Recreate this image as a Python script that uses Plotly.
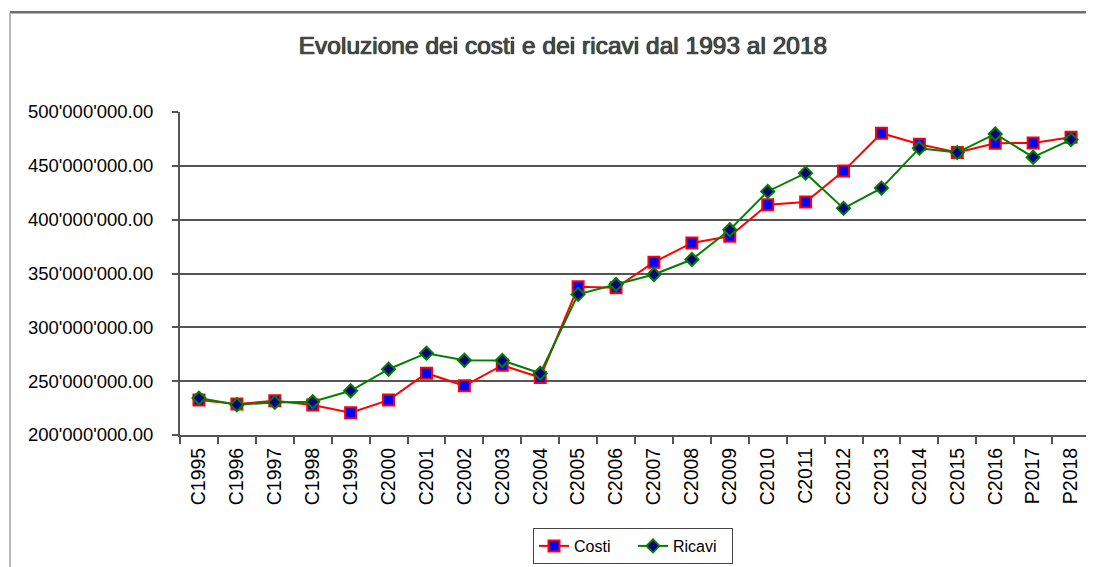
import plotly.graph_objects as go

# ---- data (values in millions) ----
categories = ["C1995", "C1996", "C1997", "C1998", "C1999", "C2000", "C2001", "C2002",
              "C2003", "C2004", "C2005", "C2006", "C2007", "C2008", "C2009", "C2010",
              "C2011", "C2012", "C2013", "C2014", "C2015", "C2016", "P2017", "P2018"]
costi_mio = [232.4, 228.7, 231.8, 227.8, 220.7, 232.4, 257.4, 245.7, 264.8, 253.4,
             337.7, 336.8, 360.5, 378.4, 384.6, 413.9, 416.4, 445.1, 480.3, 470.0,
             462.3, 471.0, 471.3, 476.5]
ricavi_mio = [234.3, 228.1, 230.3, 230.9, 241.1, 261.1, 276.0, 269.4, 269.2, 257.4,
              330.6, 339.8, 349.1, 363.0, 390.7, 426.2, 443.2, 410.5, 429.3, 466.4,
              462.3, 479.6, 458.0, 474.4]
y_tickvals = [200e6, 250e6, 300e6, 350e6, 400e6, 450e6, 500e6]

costi = [v * 1e6 for v in costi_mio]
ricavi = [v * 1e6 for v in ricavi_mio]

OFF = 8  # page body margin
W, H = 1094 - OFF, 567 - OFF
ML, MR, MT, MB = 180 - OFF, 4, 112 - OFF, 567 - 436
PW = W - ML - MR
PH = H - MT - MB

def px_x(x):  # x in window pixels -> paper
    return (x - OFF - ML) / PW

def px_y(y):  # y in window pixels -> paper
    return (H - MB - (y - OFF)) / PH

fig = go.Figure()
fig.add_trace(go.Scatter(
    x=categories, y=costi, name="Costi", mode="lines+markers",
    line=dict(color="#ff0000", width=2),
    marker=dict(symbol="square", size=11, color="#0000ff",
                line=dict(color="#ff0000", width=2)),
))
fig.add_trace(go.Scatter(
    x=categories, y=ricavi, name="Ricavi", mode="lines+markers",
    line=dict(color="#008000", width=2),
    marker=dict(symbol="diamond", size=10, color="#000080",
                line=dict(color="#008000", width=2)),
))

FONT = "Arial, Liberation Sans, sans-serif"

fig.update_layout(
    width=W, height=H,
    margin=dict(l=ML, r=MR, t=MT, b=MB, pad=0),
    paper_bgcolor="white", plot_bgcolor="white",
    separators=".'",
    font=dict(family=FONT, color="#000000"),
    title=dict(
        text="Evoluzione dei costi e dei ricavi dal 1993 al 2018",
        x=px_x(563), xref="paper", xanchor="center",
        y=1 - (45 - OFF) / H, yref="container", yanchor="middle",
        font=dict(size=24.5, color="#4a4a4a", family=FONT,
                  shadow="0px 0px 1px #000000, 0px 0px 1px #000000"),
    ),
    showlegend=True,
    legend=dict(
        orientation="h",
        x=px_x(533), xanchor="left",
        y=px_y(528), yanchor="top",
        bordercolor="#444444", borderwidth=1,
        bgcolor="white",
        font=dict(size=16, color="#000000"),
        entrywidth=54, entrywidthmode="pixels",
        tracegroupgap=0,
    ),
    xaxis=dict(
        type="category",
        range=[-0.5, len(categories) - 0.5],
        tickson="boundaries",
        ticks="outside", ticklen=7, tickwidth=1.5, tickcolor="#555555",
        showline=True, linecolor="#555555", linewidth=2,
        showgrid=False,
        tickangle=-90,
        tickfont=dict(size=19.5, color="#000000"),
        ticklabelstandoff=3,
    ),
    yaxis=dict(
        range=[200e6, 500e6],
        tickvals=y_tickvals,
        tickformat=",.2f",
        ticks="outside", ticklen=6, tickwidth=1.5, tickcolor="#555555",
        showline=True, linecolor="#555555", linewidth=2,
        showgrid=True, gridcolor="#555555", gridwidth=1.5,
        zeroline=False,
        tickfont=dict(size=18.5, color="#000000"),
        ticklabelstandoff=15,
    ),
    shapes=[
        dict(type="line", xref="paper", yref="paper",
             x0=px_x(10), x1=px_x(1100), y0=px_y(12), y1=px_y(12),
             line=dict(color="#6e6e6e", width=2.5)),
        dict(type="line", xref="paper", yref="paper",
             x0=px_x(10), x1=px_x(10), y0=px_y(12), y1=px_y(580),
             line=dict(color="#a0a0a0", width=1.5)),
    ],
)

fig.write_html("out.html")
